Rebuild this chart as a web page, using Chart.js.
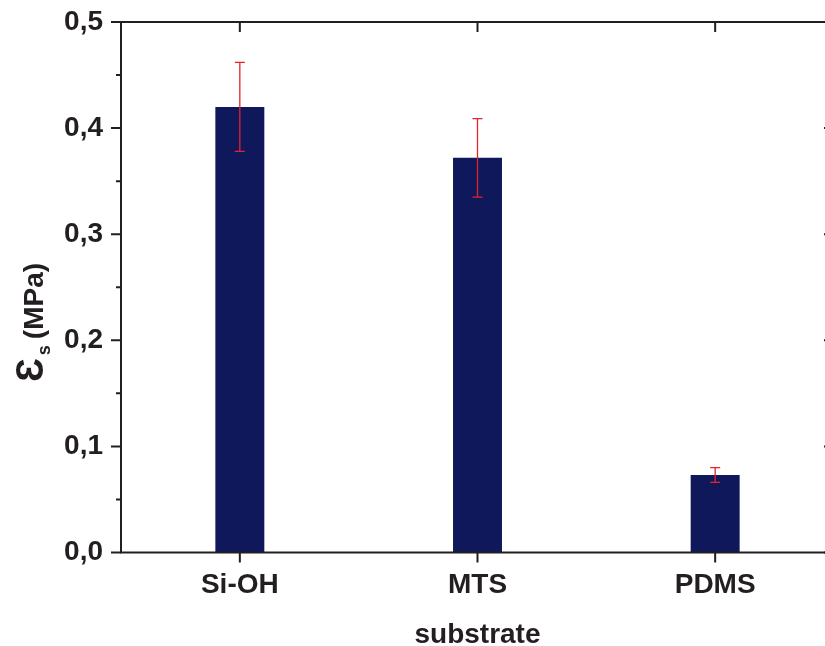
<!DOCTYPE html>
<html>
<head>
<meta charset="utf-8">
<script src="https://cdn.jsdelivr.net/npm/chart.js@4.4.1/dist/chart.umd.min.js"></script>
<style>
    html, body { margin: 0; padding: 0; background: #fff; overflow: hidden; }
    #wrap { width: 845px; height: 646px; }
</style>
</head>
<body>
<div id="wrap"><canvas id="chartModulo" width="845" height="646"></canvas></div>
<script>
// dados
const substratos = ['Si-OH', 'MTS', 'PDMS'];
const modulo = [0.420, 0.372, 0.073];   // MPa
const erro = [0.042, 0.037, 0.007];
const yTicks = [0, 0.1, 0.2, 0.3, 0.4, 0.5];
const yMinorTicks = [0.05, 0.15, 0.25, 0.35, 0.45];

const FONTE = "'Liberation Sans', Arial, sans-serif";
const COR_EIXO = '#231f20';

// barras de erro, moldura, ticks e título do eixo y
const extrasPlugin = {
    id: 'extras',
    afterDatasetsDraw(chart) {
        const ctx = chart.ctx;
        const y = chart.scales.y;
        const meta = chart.getDatasetMeta(0);
        ctx.save();
        ctx.strokeStyle = '#e3242b';
        ctx.lineWidth = 1.3;
        meta.data.forEach((bar, i) => {
            const yTop = y.getPixelForValue(modulo[i] + erro[i]);
            const yBot = y.getPixelForValue(modulo[i] - erro[i]);
            ctx.beginPath();
            ctx.moveTo(bar.x, yTop); ctx.lineTo(bar.x, yBot);
            ctx.moveTo(bar.x - 5, yTop); ctx.lineTo(bar.x + 5, yTop);
            ctx.moveTo(bar.x - 5, yBot); ctx.lineTo(bar.x + 5, yBot);
            ctx.stroke();
        });
        ctx.restore();
    },
    afterDraw(chart) {
        const ctx = chart.ctx;
        const { left, right, top, bottom } = chart.chartArea;
        const x = chart.scales.x;
        const y = chart.scales.y;
        ctx.save();
        ctx.strokeStyle = COR_EIXO;
        ctx.lineWidth = 2;
        ctx.strokeRect(left, top, right - left, bottom - top);

        ctx.beginPath();
        yTicks.forEach(v => {
            const py = y.getPixelForValue(v);
            ctx.moveTo(left - 10, py); ctx.lineTo(left, py);
            ctx.moveTo(right - 10, py); ctx.lineTo(right, py);
        });
        yMinorTicks.forEach(v => {
            const py = y.getPixelForValue(v);
            ctx.moveTo(left - 5, py); ctx.lineTo(left, py);
        });
        substratos.forEach((s, i) => {
            const px = x.getPixelForValue(i);
            ctx.moveTo(px, bottom); ctx.lineTo(px, bottom + 10);
            ctx.moveTo(px, top); ctx.lineTo(px, top + 10);
        });
        ctx.stroke();

        // título do eixo y: Ɛs (MPa)
        ctx.translate(43, 382);
        ctx.rotate(-Math.PI / 2);
        ctx.fillStyle = COR_EIXO;
        ctx.textBaseline = 'alphabetic';
        ctx.textAlign = 'left';
        let pos = 0;
        ctx.font = 'bold 38px ' + FONTE;
        ctx.fillText('Ɛ', pos, 0);
        pos += ctx.measureText('Ɛ').width + 3;
        ctx.font = 'bold 18px ' + FONTE;
        ctx.fillText('s', pos, 7);
        pos += ctx.measureText('s').width + 6;
        ctx.font = 'bold 28px ' + FONTE;
        ctx.fillText('(MPa)', pos, 0);
        ctx.restore();
    }
};

new Chart(document.getElementById('chartModulo'), {
    type: 'bar',
    data: {
        labels: substratos,
        datasets: [{
            data: modulo,
            backgroundColor: '#0f185a',
            borderWidth: 0,
            barPercentage: 0.206,
            categoryPercentage: 1
        }]
    },
    options: {
        responsive: false,
        animation: false,
        devicePixelRatio: 1,
        layout: { padding: { top: 22, right: 11, left: 0, bottom: 0 } },
        plugins: {
            legend: { display: false },
            tooltip: { enabled: false }
        },
        scales: {
            x: {
                grid: { display: false, drawTicks: false },
                border: { display: false },
                ticks: {
                    color: COR_EIXO,
                    padding: 16,
                    font: { family: FONTE, size: 28, weight: 'bold' }
                },
                title: {
                    display: true,
                    text: 'substrate',
                    color: COR_EIXO,
                    padding: { top: 0, bottom: -3 },
                    font: { family: FONTE, size: 28, weight: 'bold', lineHeight: 1 }
                },
                afterFit: scale => {
                    scale.height = 93.5;
                    scale.paddingLeft = 0;
                    scale.paddingRight = 0;
                }
            },
            y: {
                min: 0,
                max: 0.5,
                grid: { display: false, drawTicks: false },
                border: { display: false },
                afterBuildTicks: scale => { scale.ticks = yTicks.map(v => ({ value: v })); },
                ticks: {
                    color: COR_EIXO,
                    padding: 18,
                    font: { family: FONTE, size: 28, weight: 'bold' },
                    callback: v => v.toFixed(1).replace('.', ',')
                },
                afterFit: scale => {
                    scale.width = 121;
                    scale.paddingTop = 0;
                    scale.paddingBottom = 0;
                }
            }
        }
    },
    plugins: [extrasPlugin]
});
</script>
</body>
</html>
